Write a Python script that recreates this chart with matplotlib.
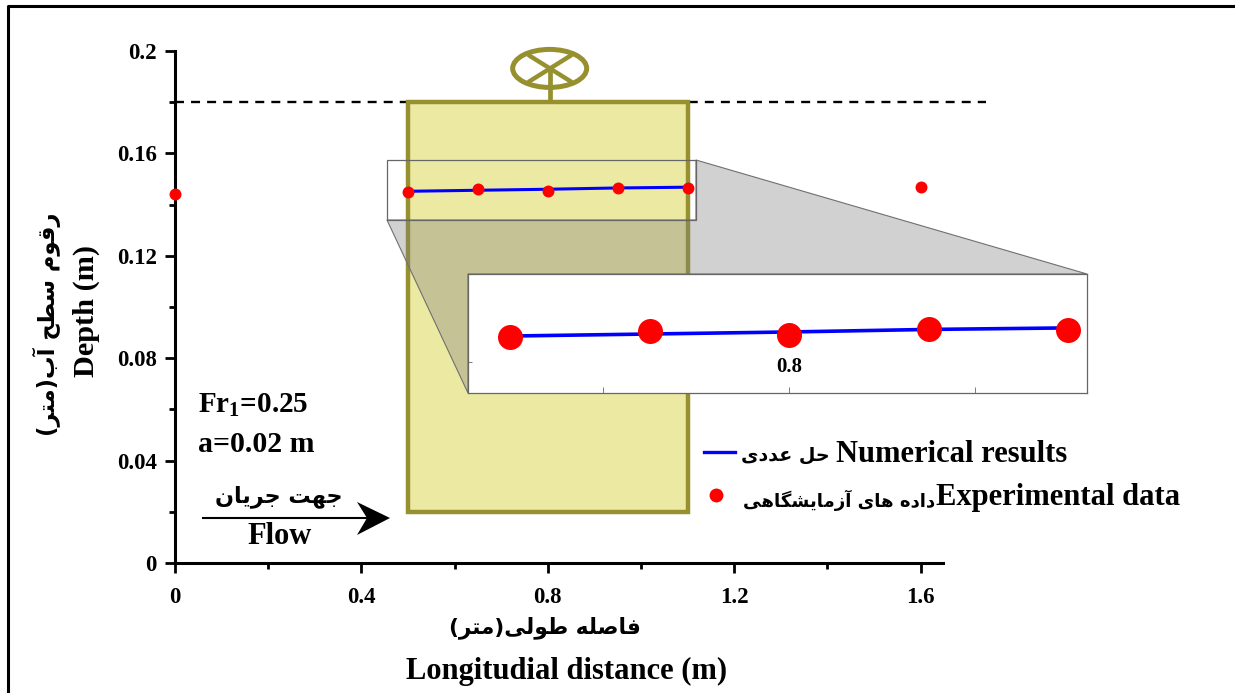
import matplotlib
matplotlib.use('Agg')
import matplotlib.pyplot as plt
from matplotlib.lines import Line2D
from matplotlib.patches import Ellipse, Polygon, Rectangle
from matplotlib.transforms import Affine2D

W, H = 1235, 693

# Data
exp_x = [0, 0.5, 0.65, 0.8, 0.95, 1.1, 1.6]
exp_y = [0.144, 0.1451, 0.1461, 0.1455, 0.1465, 0.1463, 0.1469]
num_x = [0.5, 0.65, 0.8, 0.95, 1.1]
num_y = [0.1452, 0.1456, 0.146, 0.1465, 0.1468]
x_ticks = [0, 0.4, 0.8, 1.2, 1.6]
x_tick_labels = ['0', '0.4', '0.8', '1.2', '1.6']
x_minor = [0.2, 0.6, 1.0, 1.4]
y_ticks = [0, 0.04, 0.08, 0.12, 0.16, 0.2]
y_tick_labels = ['0', '0.04', '0.08', '0.12', '0.16', '0.2']
y_minor = [0.02, 0.06, 0.1, 0.14, 0.18]
water_level = 0.18
gate_x = [0.5, 1.1]
gate_y = [0.02, 0.18]
zoom_x = [0.4548, 1.1204]
zoom_y = [0.134, 0.1574]

# Persian letters -> presentation forms (isolated, final, initial, medial)
FORMS = {
    'ا': '\uFE8D\uFE8E', 'آ': '\uFE81\uFE82', 'د': '\uFEA9\uFEAA', 'ر': '\uFEAD\uFEAE',
    'ز': '\uFEAF\uFEB0', 'و': '\uFEED\uFEEE',
    'ب': '\uFE8F\uFE90\uFE91\uFE92', 'ت': '\uFE95\uFE96\uFE97\uFE98',
    'ج': '\uFE9D\uFE9E\uFE9F\uFEA0', 'ح': '\uFEA1\uFEA2\uFEA3\uFEA4',
    'س': '\uFEB1\uFEB2\uFEB3\uFEB4', 'ش': '\uFEB5\uFEB6\uFEB7\uFEB8',
    'ص': '\uFEB9\uFEBA\uFEBB\uFEBC', 'ط': '\uFEC1\uFEC2\uFEC3\uFEC4',
    'ع': '\uFEC9\uFECA\uFECB\uFECC', 'ف': '\uFED1\uFED2\uFED3\uFED4',
    'ق': '\uFED5\uFED6\uFED7\uFED8', 'ل': '\uFEDD\uFEDE\uFEDF\uFEE0',
    'م': '\uFEE1\uFEE2\uFEE3\uFEE4', 'ن': '\uFEE5\uFEE6\uFEE7\uFEE8',
    'ه': '\uFEE9\uFEEA\uFEEB\uFEEC', 'ی': '\uFBFC\uFBFD\uFBFE\uFBFF',
    'گ': '\uFB92\uFB93\uFB94\uFB95',
}


def persian(s):
    # matplotlib has no text shaping, so join the letters and lay them out right to left
    out = []
    for i, c in enumerate(s):
        if c not in FORMS:
            out.append({'(': ')', ')': '('}.get(c, c))
            continue
        before = i > 0 and s[i - 1] in FORMS and len(FORMS[s[i - 1]]) == 4
        after = i + 1 < len(s) and s[i + 1] in FORMS and len(FORMS[c]) == 4
        if before and after:
            out.append(FORMS[c][3])
        elif before:
            out.append(FORMS[c][1])
        elif after:
            out.append(FORMS[c][2])
        else:
            out.append(FORMS[c][0])
    return ''.join(reversed(out))


plt.rcParams['font.family'] = ['Liberation Serif', 'DejaVu Sans']
plt.rcParams['font.weight'] = 'bold'
plt.rcParams['mathtext.fontset'] = 'custom'
plt.rcParams['mathtext.bf'] = 'Liberation Serif:bold'

fig = plt.figure(figsize=(W / 100, H / 100), dpi=100)
# top-left pixel coordinates, for everything that is annotation and not data
px = Affine2D().scale(1, -1).translate(0, H)

ax = fig.add_axes([175 / W, 1 - 563 / H, 768 / W, 512 / H])
ax.set_xlim(0, 1.648)
ax.set_ylim(0, 0.2)
ax.patch.set_alpha(0)
for s in ['top', 'right']:
    ax.spines[s].set_visible(False)
for s in ['left', 'bottom']:
    ax.spines[s].set_linewidth(2.2)
ax.set_xticks(x_ticks, x_tick_labels)
ax.set_yticks(y_ticks, y_tick_labels)
ax.set_xticks(x_minor, minor=True)
ax.set_yticks(y_minor, minor=True)
ax.tick_params(axis='both', which='major', length=7, width=2, labelsize=16.5)
ax.tick_params(axis='both', which='minor', length=4, width=2)
ax.tick_params(axis='x', which='major', pad=10)
ax.tick_params(axis='y', which='major', pad=6)

# water level
ax.plot([0, 1.74], [water_level, water_level], color='k', lw=1.7, dashes=(3.8, 3),
        clip_on=False, zorder=1)

# source box of the zoom
ax.add_patch(Rectangle((zoom_x[0] + 0.0, zoom_y[0]), 1.118 - zoom_x[0], zoom_y[1] - zoom_y[0],
                       fc='white', ec='none', zorder=1.5))

# gate
olive = '#96902f'
ax.add_patch(Rectangle((gate_x[0], gate_y[0]), gate_x[1] - gate_x[0], gate_y[1] - gate_y[0],
                       fc='#ece9a3', ec=olive, lw=3.2, zorder=2))
ax.add_patch(Ellipse((0.804, 0.1932), 74 / 466, 38 / 2560, fc='none', ec=olive, lw=3.6,
                     clip_on=False, zorder=2))
fig.add_artist(Line2D([549.5, 549.5], [68, 100], color=olive, lw=3.4, transform=px))
fig.add_artist(Line2D([530, 570], [56, 81], color=olive, lw=3.2, transform=px))
fig.add_artist(Line2D([530, 570], [81, 56], color=olive, lw=3.2, transform=px))

# grey connector between box and inset
connector = [(387, 220), (468, 393), (468, 274), (1087, 274), (696, 160), (696, 220)]
ax.add_patch(Polygon(connector, closed=True, fc='#808080', ec='none', alpha=0.36, transform=px,
                     zorder=3, clip_on=False))
ax.add_patch(Polygon(connector, closed=True, fc='none', ec='#707070', lw=0.8, transform=px,
                     zorder=3, clip_on=False))
ax.add_patch(Rectangle((387, 160), 309, 60, fc='none', ec='#666666', lw=0.9, transform=px, zorder=4,
                       clip_on=False))

# results
ax.plot(num_x, num_y, color='#0000ff', lw=2.2, zorder=5)
ax.plot(exp_x, exp_y, ls='none', marker='o', ms=8.6, mfc='#ff0000', mec='none', clip_on=False, zorder=6)

# inset
axi = fig.add_axes([468 / W, 1 - 393 / H, 619 / W, 119 / H])
axi.set_xlim(zoom_x)
axi.set_ylim(zoom_y)
axi.plot(num_x, num_y, color='#0000ff', lw=2.6)
axi.plot(exp_x[1:6], exp_y[1:6], ls='none', marker='o', ms=18, mfc='#ff0000', mec='none', clip_on=False)
for s in axi.spines.values():
    s.set_linewidth(0.9)
    s.set_color('#666666')
axi.set_xticks([0.8], ['0.8'])
axi.set_xticks([0.6, 1.0], minor=True)
axi.set_yticks([0.14], [''])
axi.tick_params(axis='x', which='major', direction='in', length=4, width=0.6, color='#666666',
                labelsize=15, pad=-26)
axi.tick_params(axis='x', which='minor', direction='in', length=4, width=0.6, color='#666666')
axi.tick_params(axis='y', direction='in', length=3, width=0.6, color='#666666')

# axis titles
persian_font = ['DejaVu Sans']
fig.text(47, 324, persian('رقوم سطح آب(متر)'), transform=px, rotation=90, ha='center', va='center',
         fontsize=16.3, family=persian_font)
fig.text(86, 311, 'Depth (m)', transform=px, rotation=90, ha='center', va='center', fontsize=21.8)
fig.text(545, 628, persian('فاصله طولی(متر)'), transform=px, ha='center', va='center',
         fontsize=15.6, family=persian_font)
fig.text(567, 671, 'Longitudial distance (m)', transform=px, ha='center', va='center', fontsize=22)

# notes
fig.text(198, 405, r'Fr$\mathbf{_1}$=0.25', transform=px, ha='left', va='center', fontsize=21)
fig.text(198, 444, 'a=0.02 m', transform=px, ha='left', va='center', fontsize=21.5)

# flow arrow
fig.text(279, 497, persian('جهت جریان'), transform=px, ha='center', va='center', fontsize=16,
         family=persian_font)
fig.text(280, 536, 'Flow', transform=px, ha='center', va='center', fontsize=22)
fig.add_artist(Line2D([203, 370], [518, 518], color='k', lw=1.5, transform=px))
fig.add_artist(Polygon([(390, 518), (357, 502), (367, 518), (357, 535)], closed=True, fc='k',
                       ec='none', transform=px))

# legend
fig.add_artist(Line2D([704, 735], [452, 452], color='#0000ff', lw=2.4, transform=px))
fig.add_artist(Line2D([716], [495], ls='none', marker='o', ms=10, mfc='#ff0000', mec='none', transform=px))
fig.text(830, 455, persian('حل عددی'), transform=px, ha='right', va='center', fontsize=13.7,
         family=persian_font)
fig.text(836, 455, 'Numerical results', transform=px, ha='left', va='center', fontsize=22)
fig.text(935, 500, persian('داده های آزمایشگاهی'), transform=px, ha='right', va='center', fontsize=13.1,
         family=persian_font)
fig.text(936, 498, 'Experimental data', transform=px, ha='left', va='center', fontsize=22)

# outer frame of the figure
fig.add_artist(Line2D([8, 8, W], [H, 6, 6], color='k', lw=2.2, transform=px))

fig.savefig('out.png', dpi=100)
